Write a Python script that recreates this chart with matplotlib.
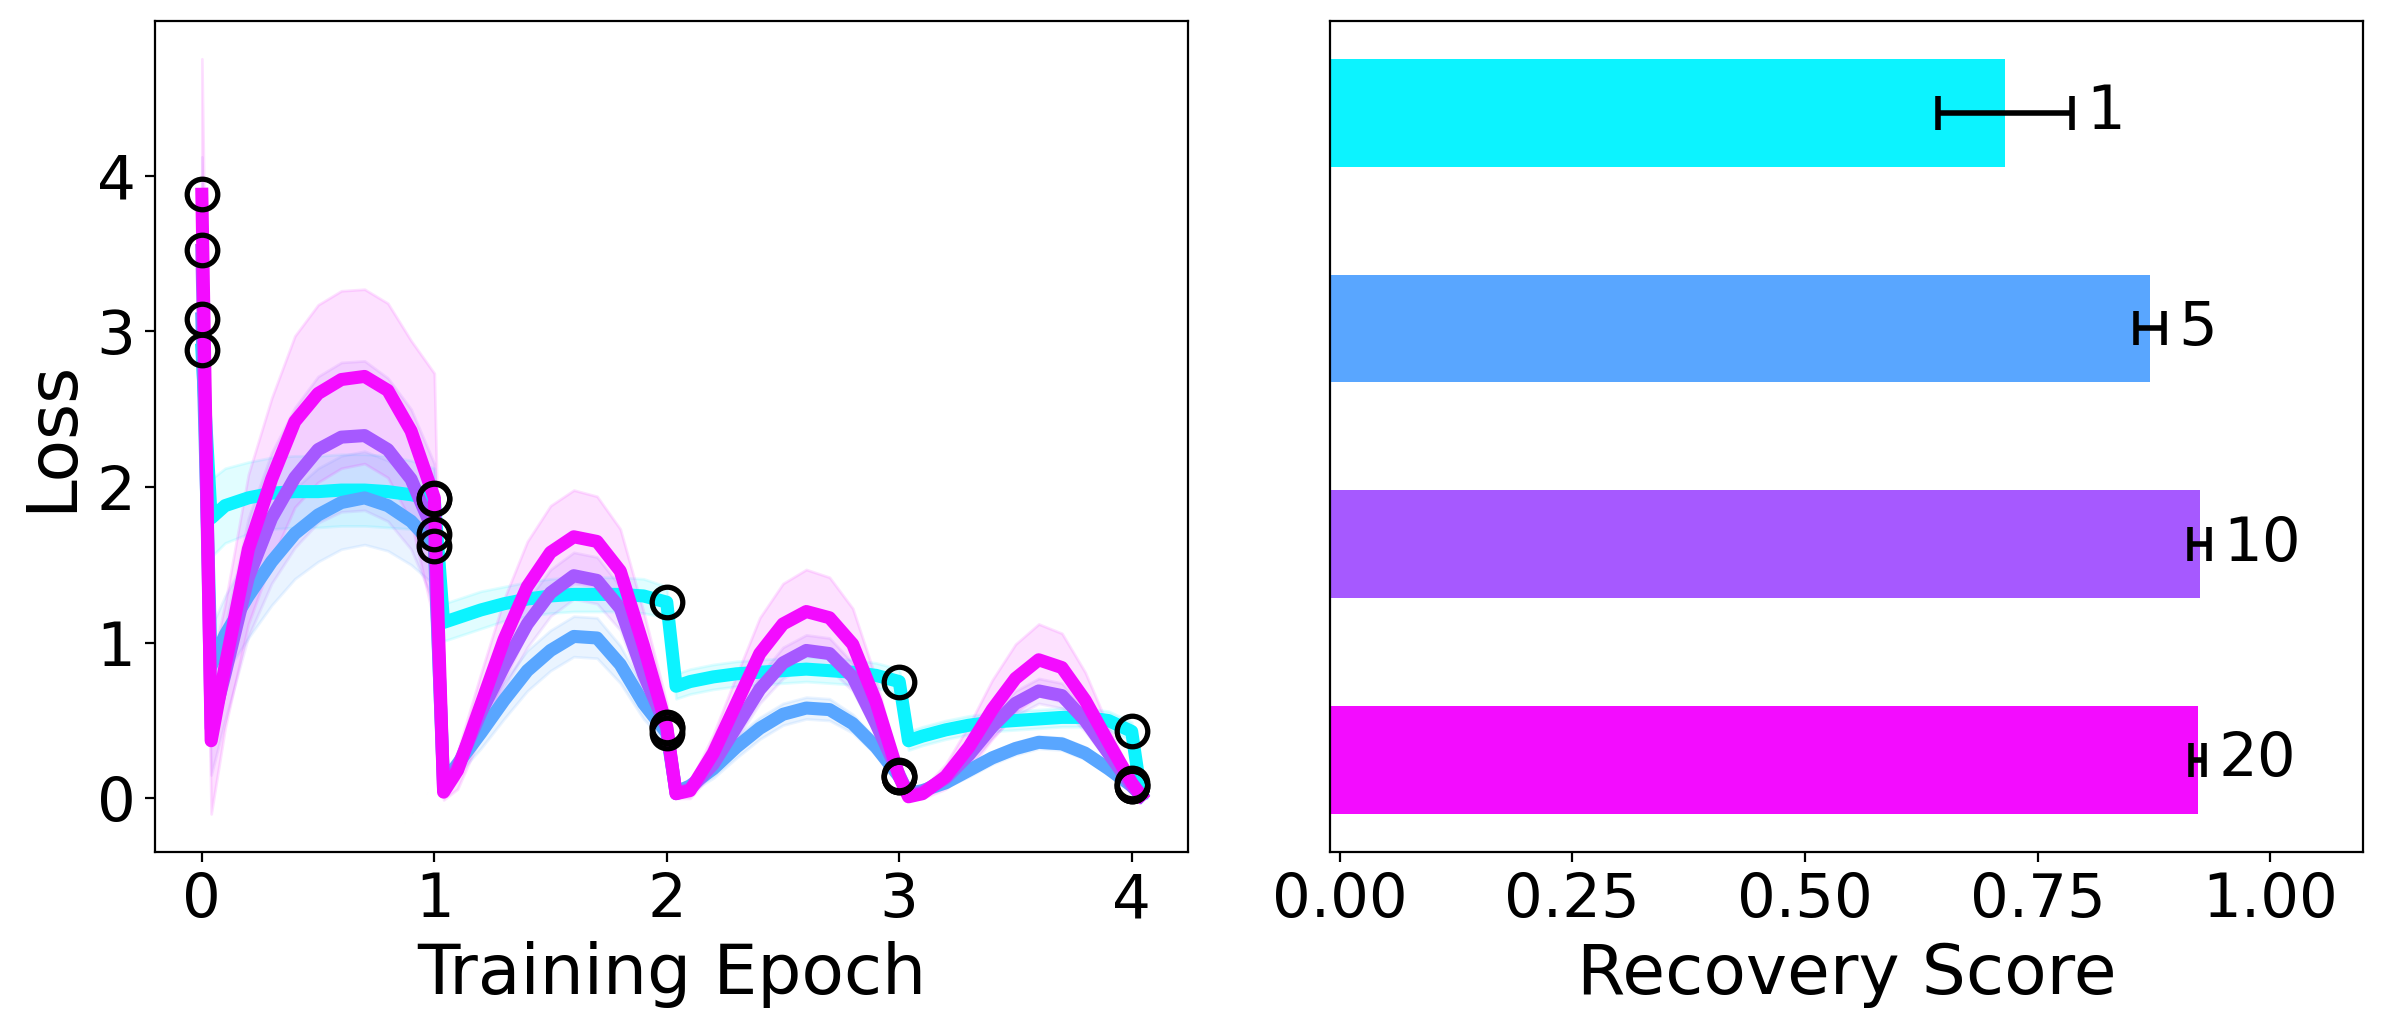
import numpy as np
import matplotlib.pyplot as plt

# number of augmentations per run (labels on the bars)
groups = ["1", "5", "10", "20"]

# training epoch positions of the samples (shared by all curves)
epoch_x = [0.0, 0.04, 0.1, 0.2, 0.3, 0.4, 0.5, 0.6, 0.7, 0.8, 0.9,
           1.0, 1.04, 1.1, 1.2, 1.3, 1.4, 1.5, 1.6, 1.7, 1.8, 1.9,
           2.0, 2.04, 2.1, 2.2, 2.3, 2.4, 2.5, 2.6, 2.7, 2.8, 2.9,
           3.0, 3.04, 3.1, 3.2, 3.3, 3.4, 3.5, 3.6, 3.7, 3.8, 3.9,
           4.0, 4.04]

# mean loss curves
loss_1 = [2.88, 1.80, 1.88, 1.93, 1.96, 1.97, 1.97, 1.98, 1.98, 1.97, 1.95,
          1.92, 1.13, 1.16, 1.21, 1.25, 1.28, 1.30, 1.31, 1.31, 1.31, 1.30,
          1.26, 0.72, 0.75, 0.78, 0.80, 0.81, 0.82, 0.83, 0.82, 0.81, 0.79,
          0.75, 0.37, 0.40, 0.44, 0.47, 0.49, 0.50, 0.51, 0.52, 0.52, 0.50,
          0.43, 0.03]
loss_5 = [3.08, 0.85, 1.05, 1.30, 1.52, 1.70, 1.82, 1.90, 1.93, 1.88, 1.78,
          1.62, 0.10, 0.22, 0.42, 0.63, 0.82, 0.95, 1.04, 1.03, 0.86, 0.61,
          0.42, 0.04, 0.08, 0.19, 0.33, 0.45, 0.54, 0.58, 0.57, 0.48, 0.33,
          0.14, 0.03, 0.05, 0.10, 0.18, 0.26, 0.32, 0.36, 0.35, 0.29, 0.19,
          0.08, 0.02]
loss_10 = [3.52, 0.45, 0.80, 1.42, 1.80, 2.06, 2.24, 2.32, 2.33, 2.24, 2.05,
           1.70, 0.05, 0.20, 0.55, 0.85, 1.12, 1.32, 1.43, 1.40, 1.22, 0.80,
           0.45, 0.03, 0.06, 0.22, 0.46, 0.70, 0.87, 0.95, 0.93, 0.78, 0.48,
           0.15, 0.02, 0.04, 0.13, 0.28, 0.46, 0.61, 0.69, 0.66, 0.50, 0.29,
           0.08, 0.02]
loss_20 = [3.88, 0.37, 0.85, 1.60, 2.05, 2.42, 2.60, 2.69, 2.71, 2.62, 2.36,
           1.93, 0.04, 0.18, 0.60, 1.02, 1.36, 1.58, 1.68, 1.65, 1.46, 0.98,
           0.46, 0.03, 0.05, 0.29, 0.61, 0.93, 1.12, 1.20, 1.16, 0.99, 0.62,
           0.14, 0.01, 0.03, 0.14, 0.33, 0.57, 0.77, 0.89, 0.84, 0.63, 0.36,
           0.10, 0.02]

# spread (std over seeds)
std_1 = [0.30, 0.25, 0.24, 0.23, 0.23, 0.23, 0.23, 0.23, 0.23, 0.23, 0.22,
         0.20, 0.12, 0.12, 0.12, 0.11, 0.11, 0.11, 0.11, 0.11, 0.11, 0.11,
         0.10, 0.08, 0.08, 0.08, 0.08, 0.08, 0.08, 0.08, 0.08, 0.08, 0.08,
         0.08, 0.06, 0.06, 0.06, 0.06, 0.06, 0.06, 0.06, 0.06, 0.06, 0.06,
         0.06, 0.02]
std_5 = [0.35, 0.25, 0.25, 0.27, 0.28, 0.29, 0.30, 0.30, 0.30, 0.29, 0.28,
         0.25, 0.05, 0.07, 0.10, 0.12, 0.13, 0.13, 0.13, 0.13, 0.12, 0.10,
         0.07, 0.03, 0.04, 0.06, 0.07, 0.07, 0.07, 0.07, 0.07, 0.06, 0.05,
         0.03, 0.02, 0.02, 0.03, 0.04, 0.04, 0.04, 0.04, 0.04, 0.04, 0.03,
         0.02, 0.02]
std_10 = [0.60, 0.30, 0.30, 0.38, 0.42, 0.45, 0.47, 0.48, 0.48, 0.46, 0.45,
          0.45, 0.04, 0.08, 0.12, 0.14, 0.15, 0.15, 0.15, 0.15, 0.14, 0.12,
          0.08, 0.02, 0.03, 0.06, 0.08, 0.09, 0.10, 0.10, 0.10, 0.09, 0.07,
          0.04, 0.02, 0.02, 0.04, 0.06, 0.07, 0.08, 0.08, 0.08, 0.07, 0.05,
          0.03, 0.02]
std_20 = [0.87, 0.47, 0.40, 0.48, 0.52, 0.55, 0.57, 0.57, 0.56, 0.56, 0.58,
          0.80, 0.05, 0.12, 0.20, 0.26, 0.29, 0.30, 0.30, 0.29, 0.27, 0.22,
          0.15, 0.03, 0.05, 0.12, 0.18, 0.23, 0.26, 0.27, 0.26, 0.23, 0.15,
          0.05, 0.02, 0.03, 0.08, 0.14, 0.19, 0.22, 0.23, 0.22, 0.18, 0.10,
          0.04, 0.02]

# recovery score per group
recovery = [0.715, 0.871, 0.924, 0.922]
recovery_err = [0.072, 0.015, 0.010, 0.007]

losses = [loss_1, loss_5, loss_10, loss_20]
stds = [std_1, std_5, std_10, std_20]
colors = plt.cm.cool(np.linspace(0.05, 0.95, 4))

fig = plt.figure(figsize=(2383 / 200, 1026 / 200), dpi=200)
ax1 = fig.add_axes([0.0650, 0.1699, 0.4335, 0.8096])
ax2 = fig.add_axes([0.5583, 0.1699, 0.4335, 0.8096])

x = np.array(epoch_x)
ep_idx = [i for i, v in enumerate(epoch_x) if float(v).is_integer()]

# LEFT: loss curves with circles at the epoch boundaries
for m, s, c in zip(losses, stds, colors):
    m = np.array(m)
    s = np.array(s)
    ax1.fill_between(x, m - s, m + s, color=c, alpha=0.12, lw=1)
    ax1.plot(x, m, color=c, lw=4.7)
for m in losses:
    m = np.array(m)
    ax1.plot(x[ep_idx], m[ep_idx], 'o', mfc='none', mec='black', ms=11, mew=1.9,
             zorder=3)

ax1.set_xticks([0, 1, 2, 3, 4])
ax1.set_yticks([0, 1, 2, 3, 4])
ax1.tick_params(labelsize=22)
ax1.set_xlabel('Training Epoch', fontsize=25)
ax1.set_ylabel('Loss', fontsize=25)

# RIGHT: recovery bars, drawn from the left edge of the axes
x0 = -0.01
pos = [3, 2, 1, 0]
widths = [v - x0 for v in recovery]
ax2.barh(pos, widths, left=x0, height=0.5, color=colors, xerr=recovery_err,
         capsize=6, error_kw=dict(elinewidth=2, capthick=2, ecolor='black'))
for p, v, e, g in zip(pos, recovery, recovery_err, groups):
    ax2.text(v + e + 0.015, p, g, fontsize=22, va='center', ha='left')

ax2.set_yticks([])
ax2.set_xlim(x0, 1.1)
ax2.set_xticks([0, 0.25, 0.5, 0.75, 1.0])
ax2.set_xticklabels(['0.00', '0.25', '0.50', '0.75', '1.00'])
ax2.tick_params(labelsize=22)
ax2.set_xlabel('Recovery Score', fontsize=25)

fig.savefig('out.png', dpi=200)
